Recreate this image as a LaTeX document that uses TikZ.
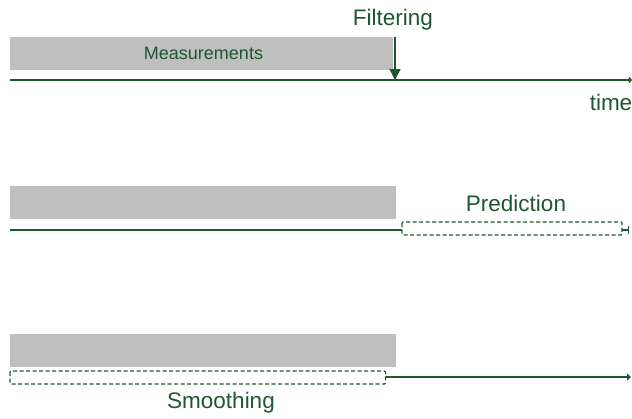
\documentclass[tikz,border=0pt]{standalone}
\usepackage{fontspec}
\setmainfont{Liberation Sans}
\usetikzlibrary{arrows.meta}
\definecolor{lineg}{HTML}{1E5631}
\definecolor{barg}{HTML}{BFBFBF}
\tikzset{
  x=1pt, y=-1pt,
  bar/.style={fill=barg, draw=none},
  axis/.style={draw=lineg, line width=1.5pt},
  dashbox/.style={draw=lineg, line width=1.2pt, dash pattern=on 4pt off 2.5pt, rounded corners=1pt},
  lbl/.style={text=lineg, font=\fontsize{22.5}{26}\selectfont, inner sep=0pt, anchor=base},
  smalllbl/.style={text=lineg, font=\fontsize{18}{21}\selectfont, inner sep=0pt, anchor=base},
}
\begin{document}
\begin{tikzpicture}
\useasboundingbox (0,0) rectangle (632,418);

% --- filtering ---
\fill[bar] (10,37) rectangle (393,70);
\node[smalllbl] (meas) at (203.5,59.5) {Measurements};
\coordinate (t1s) at (10,80);
\coordinate (t1e) at (632,80);
\draw[axis, -{Straight Barb[length=2pt,width=5pt]}] (t1s) -- (t1e);
\coordinate (ftop) at (395,37);
\coordinate (fbot) at (395,80);
\draw[axis, -{Triangle[length=11pt,width=11pt]}] (ftop) -- (fbot);
\node[lbl] (filt) at (393,25) {Filtering};
\node[lbl] (time) at (611,110) {time};

% --- prediction ---
\fill[bar] (10,186) rectangle (396,219);
\coordinate (t2s) at (10,230);
\coordinate (t2m) at (402,230);
\draw[axis] (t2s) -- (t2m);
\draw[dashbox] (402,222) rectangle (622,235);
\coordinate (t2a) at (622,230);
\coordinate (t2e) at (628,230);
\draw[axis] (t2a) -- (t2e);
\draw[lineg, line width=1pt] (628,226) -- (628,234);
\node[lbl] (pred) at (516,211) {Prediction};

% --- smoothing ---
\fill[bar] (10,334) rectangle (396,367);
\draw[dashbox] (10,371) rectangle (385.5,384);
\coordinate (t3s) at (385.5,377);
\coordinate (t3e) at (631,377);
\draw[axis, -{Triangle[length=4pt,width=7pt]}] (t3s) -- (t3e);
\node[lbl] (smooth) at (221,408) {Smoothing};
\end{tikzpicture}
\end{document}
